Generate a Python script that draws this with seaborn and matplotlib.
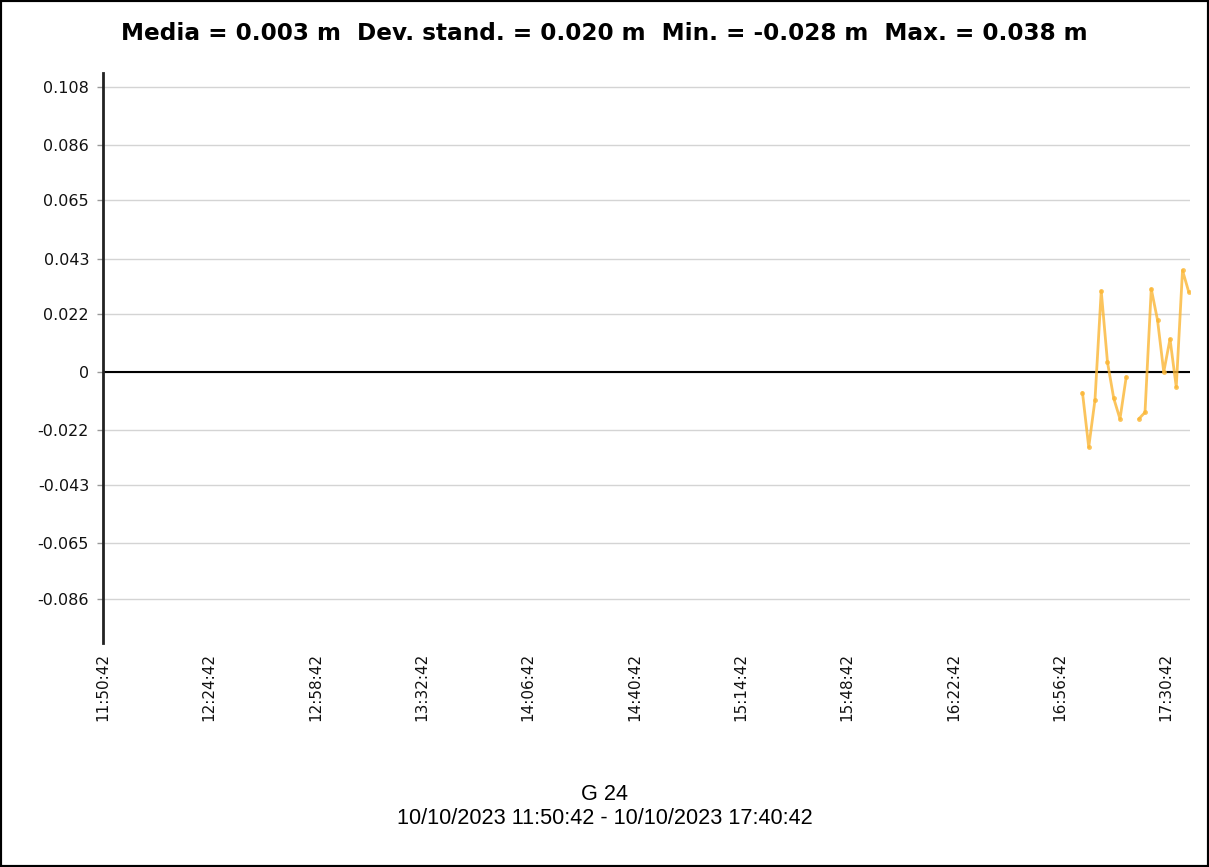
import numpy as np
import pandas as pd
import seaborn as sns
import matplotlib.pyplot as plt
import matplotlib.dates as mdates
from matplotlib.patches import Rectangle

# readings (m) sampled every 2 min, one reading missing at 17:20
times = ['17:04:00', '17:06:00', '17:08:00', '17:10:00', '17:12:00', '17:14:00',
         '17:16:00', '17:18:00', '17:22:00', '17:24:00', '17:26:00', '17:28:00',
         '17:30:00', '17:32:00', '17:34:00', '17:36:00', '17:38:00']
values = [-0.0078, -0.0285, -0.0106, 0.0307, 0.0037, -0.0100,
          -0.0178, -0.0018, -0.0178, -0.0153, 0.0315, 0.0197,
          0.0000, 0.0125, -0.0057, 0.0385, 0.0303]
segment = [0] * 8 + [1] * 9

ytick_vals = [0.108, 0.086, 0.065, 0.043, 0.022, 0, -0.022, -0.043, -0.065, -0.086]
ytick_labels = ['0.108', '0.086', '0.065', '0.043', '0.022', '0',
                '-0.022', '-0.043', '-0.065', '-0.086']
xtick_labels = ['11:50:42', '12:24:42', '12:58:42', '13:32:42', '14:06:42', '14:40:42',
                '15:14:42', '15:48:42', '16:22:42', '16:56:42', '17:30:42']

title = 'Media = 0.003 m  Dev. stand. = 0.020 m  Min. = -0.028 m  Max. = 0.038 m'
sensor = 'G 24'
period = '10/10/2023 11:50:42 - 10/10/2023 17:40:42'

day = '2023-10-10 '
df = pd.DataFrame({'time': pd.to_datetime([day + t for t in times]),
                   'value': values, 'segment': segment})

sns.set_style('white')
plt.rcParams['font.family'] = ['DejaVu Sans']
plt.rcParams['text.color'] = 'black'

fig = plt.figure(figsize=(12.09, 8.67), dpi=100)
ax = fig.add_axes([0.0852, 0.2584, 0.8991, 0.6574])

for y in ytick_vals:
    ax.axhline(y, color='#d4d4d4', lw=1, zorder=0)
ax.axhline(0, color='black', lw=1.5, zorder=1)

sns.lineplot(data=df, x='time', y='value', units='segment', estimator=None,
             color='#fbb634', alpha=0.8, lw=2, marker='o', markersize=3.5,
             markeredgewidth=0, ax=ax, zorder=3)

xt = pd.to_datetime([day + t for t in xtick_labels])
ax.set_xticks(mdates.date2num(xt))
ax.set_xticklabels(xtick_labels, rotation=90, fontsize=11, color='#111111')
ax.set_xlim(mdates.date2num(pd.Timestamp(day + '11:50:42')),
            mdates.date2num(pd.Timestamp(day + '17:38:24')))

ax.set_yticks(ytick_vals)
ax.set_yticklabels(ytick_labels, fontsize=11.5, color='#111111')
ax.set_ylim(-0.1027, 0.1133)

ax.tick_params(axis='y', length=4, width=1, color='#999999', pad=6, left=True)
ax.tick_params(axis='x', length=0, pad=7)
ax.set_xlabel('')
ax.set_ylabel('')
for s in ['top', 'right', 'bottom']:
    ax.spines[s].set_visible(False)
ax.spines['left'].set_color('#222222')
ax.spines['left'].set_linewidth(2)

fig.text(0.5, 1 - 33 / 867, title, ha='center', va='center',
         fontsize=16.7, fontweight='bold')
fig.text(0.5, 1 - 795 / 867, sensor, ha='center', va='center',
         fontsize=15.6, family='Liberation Sans')
fig.text(0.5, 1 - 818 / 867, period, ha='center', va='center',
         fontsize=15.6, family='Liberation Sans')

fig.add_artist(Rectangle((0, 0), 1, 1, transform=fig.transFigure,
                         fill=False, ec='black', lw=3))

fig.savefig('out.png', dpi=100)
